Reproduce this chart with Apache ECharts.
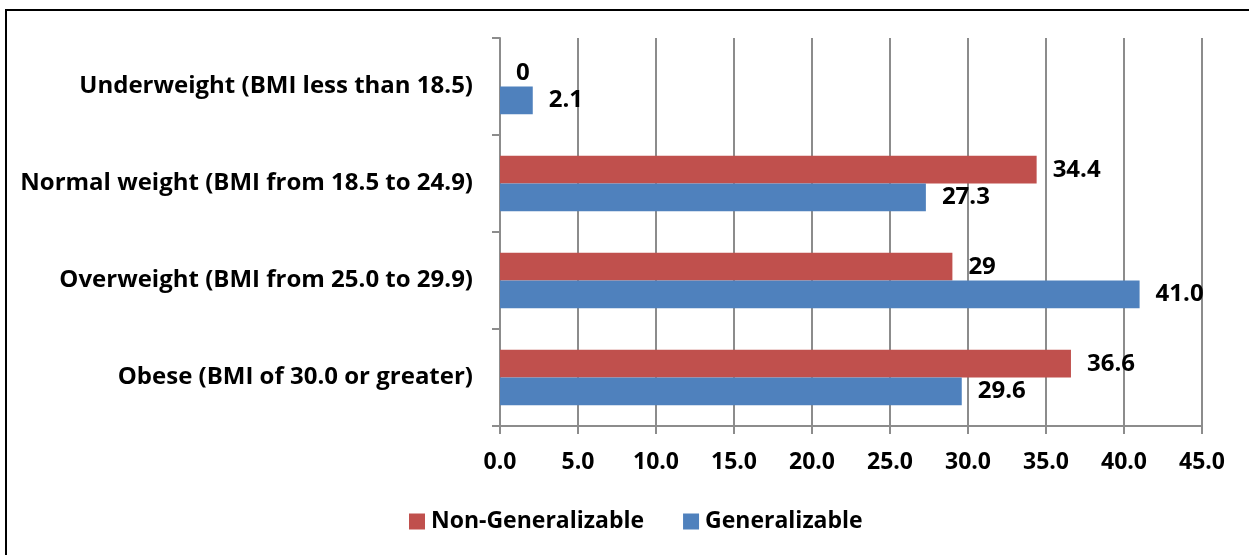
<!DOCTYPE html>
<html>
<head>
<meta charset="utf-8">
<script src="https://cdn.jsdelivr.net/npm/echarts@6/dist/echarts.min.js"></script>
<style>
html,body{margin:0;padding:0;background:#fff;}
#c{width:1249px;height:555px;}
</style>
</head>
<body>
<div id="c"></div>
<script>
const categories = [
  'Underweight (BMI less than 18.5)',
  'Normal weight (BMI from 18.5 to 24.9)',
  'Overweight (BMI from 25.0 to 29.9)',
  'Obese (BMI of 30.0 or greater)'
];
const nonGeneralizable = [0, 34.4, 29, 36.6];
const generalizable = [2.1, 27.3, 41.0, 29.6];
const xTicks = { min: 0, max: 45, interval: 5 };

const FONT = 'Open Sans';
const chart = echarts.init(document.getElementById('c'), null, { renderer: 'canvas' });
const labelStyle = {
  show: true, position: 'right', distance: 16,
  fontFamily: FONT, fontWeight: 'bold', fontSize: 24, color: '#000'
};
chart.setOption({
  animation: false,
  backgroundColor: '#fff',
  graphic: [{
    type: 'rect', shape: { x: 6, y: 10, width: 1400, height: 700 },
    style: { fill: 'none', stroke: '#000', lineWidth: 2 }, silent: true
  }],
  legend: {
    left: 404, top: 505,
    itemWidth: 16, itemHeight: 16, itemGap: 39,
    icon: 'rect',
    textStyle: { fontFamily: FONT, fontWeight: 'bold', fontSize: 23, color: '#000', padding: [0, 0, 0, 1] },
    data: ['Non-Generalizable', 'Generalizable']
  },
  grid: { left: 500, right: 47, top: 38, bottom: 129, containLabel: false },
  xAxis: {
    type: 'value', min: xTicks.min, max: xTicks.max, interval: xTicks.interval,
    axisLine: { show: true, lineStyle: { color: '#8c8c8c', width: 2 } },
    axisTick: { show: true, length: 8, lineStyle: { color: '#8c8c8c', width: 2 } },
    splitLine: { show: true, lineStyle: { color: '#8c8c8c', width: 2 } },
    axisLabel: {
      margin: 25, fontFamily: FONT, fontWeight: 'bold', fontSize: 23, color: '#000',
      formatter: v => v.toFixed(1)
    }
  },
  yAxis: {
    type: 'category', data: categories, inverse: true,
    axisLine: { show: true, lineStyle: { color: '#8c8c8c', width: 2 } },
    axisTick: { show: true, length: 8, interval: 0, lineStyle: { color: '#8c8c8c', width: 2 } },
    axisLabel: { margin: 27, fontFamily: FONT, fontWeight: 'bold', fontSize: 24, color: '#000' }
  },
  series: [
    {
      name: 'Non-Generalizable', type: 'bar', data: nonGeneralizable,
      barGap: '0%', barCategoryGap: '43%',
      itemStyle: { color: '#C0504D' },
      label: Object.assign({}, labelStyle, { formatter: p => String(p.value) })
    },
    {
      name: 'Generalizable', type: 'bar', data: generalizable,
      barGap: '0%', barCategoryGap: '43%',
      itemStyle: { color: '#4F81BD' },
      label: Object.assign({}, labelStyle, { formatter: p => p.value.toFixed(1) })
    }
  ]
});
</script>
</body>
</html>
